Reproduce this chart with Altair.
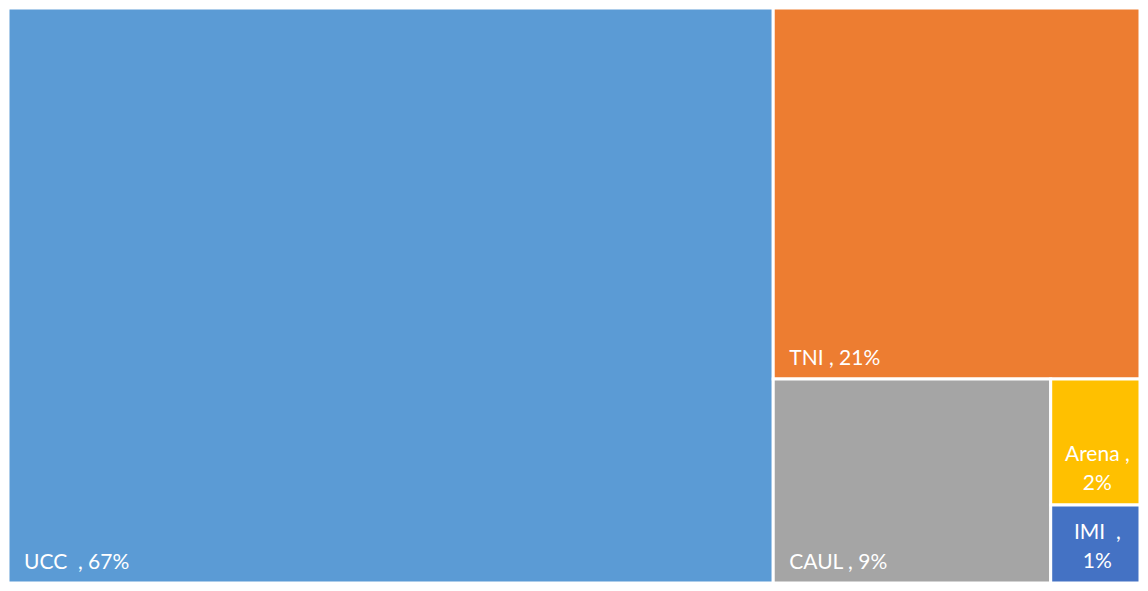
import altair as alt
import pandas as pd

# Data
names = ["UCC\u00a0", "TNI", "CAUL", "Arena", "IMI\u00a0"]
shares = [67.6, 20.9, 8.7, 1.73, 1.07]          # area shares (relative sizes)
pct_labels = ["67%", "21%", "9%", "2%", "1%"]
colors = ["#5B9BD5", "#ED7D31", "#A5A5A5", "#FFC000", "#4472C4"]
wrapped = ["Arena", "IMI\u00a0"]

# Slice-and-dice treemap layout on a 0..100 x 0..100 canvas
total = sum(shares)
u, t, c, a, i = shares
ux = 100 * u / total
rest = total - u
ty = 100 * t / rest
small = c + a + i
cx = ux + (100 - ux) * c / small
ay = ty + (100 - ty) * a / (a + i)
rects = [
    (0, ux, 0, 100),
    (ux, 100, 0, ty),
    (ux, cx, ty, 100),
    (cx, 100, ty, ay),
    (cx, 100, ay, 100),
]

rows = []
for n, s, p, col, (x0, x1, y0, y1) in zip(names, shares, pct_labels, colors, rects):
    rows.append({
        "name": n, "share": s, "pct": p, "color": col,
        "x0": x0, "x1": x1, "y0": y0, "y1": y1, "xm": (x0 + x1) / 2,
        "label": f"{n} , {p}",
        "label2": [f"{n} ,", p],
        "wrapped": n in wrapped,
    })
df = pd.DataFrame(rows)

W, H = 1132, 575
xs = alt.Scale(domain=[0, 100], nice=False, zero=False)
ys = alt.Scale(domain=[0, 100], nice=False, zero=False, reverse=True)

base = alt.Chart(df)

rect = base.mark_rect(stroke="white", strokeWidth=3).encode(
    x=alt.X("x0:Q", scale=xs, axis=None),
    x2="x1:Q",
    y=alt.Y("y0:Q", scale=ys, axis=None),
    y2="y1:Q",
    color=alt.Color("color:N", scale=None, legend=None),
    tooltip=["name:N", "pct:N"],
)

font = "Lato"
fsize = 21

text1 = base.transform_filter("!datum.wrapped").mark_text(
    align="left", baseline="alphabetic", dx=16, dy=-14,
    color="white", font=font, fontSize=fsize,
).encode(
    x=alt.X("x0:Q", scale=xs),
    y=alt.Y("y1:Q", scale=ys),
    text="label:N",
)

text2 = base.transform_filter("datum.wrapped").mark_text(
    align="center", baseline="alphabetic", dx=2, dy=-44, lineHeight=29,
    color="white", font=font, fontSize=fsize,
).encode(
    x=alt.X("xm:Q", scale=xs),
    y=alt.Y("y1:Q", scale=ys),
    text="label2",
)

chart = alt.layer(rect, text1, text2).properties(
    width=W, height=H, padding=0, autosize=alt.AutoSizeParams(type="none"),
).configure_view(stroke=None)

chart.save("out.html", embed_options={"renderer": "svg", "actions": False})
